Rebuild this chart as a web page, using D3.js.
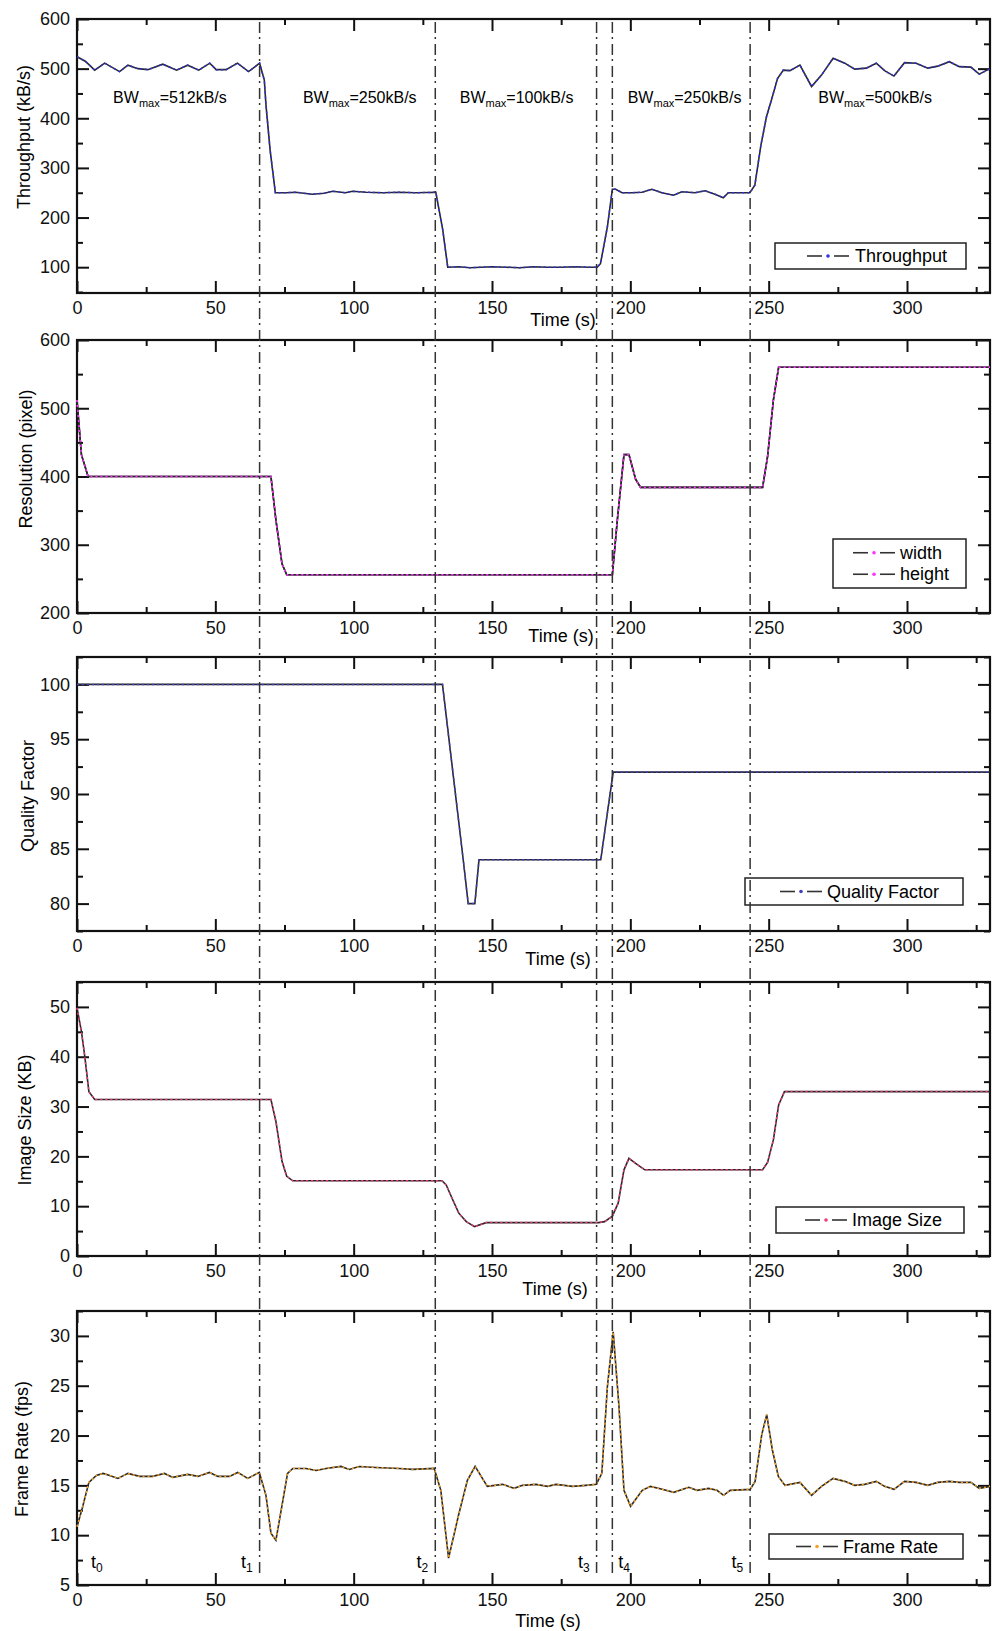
<!DOCTYPE html>
<html>
<head>
<meta charset="utf-8">
<script src="https://cdn.jsdelivr.net/npm/d3@7"></script>
<style>
  body { margin: 0; background: #fff; }
  svg { display: block; font-family: "Liberation Sans", Arial, sans-serif; }
</style>
</head>
<body>
<script>
// ---- data (time in s, value) ----
const throughput = [[0,524],[3,515],[6.4,497],[10,511],[15.4,494],[18.4,507],[22,500],[25.6,498],[31,509],[36,497],[40,507],[44,497],[48,511],[50.3,498],[53.9,498],[58,511],[62,494],[66,511],[67.7,477],[68.3,427],[69.8,336],[71.7,250],[75.6,250],[79,251],[85,247],[89.4,249],[92.4,253],[97,250],[99.6,253],[104.5,251],[110.5,250],[116.5,251],[122.5,250],[129.7,251],[132.2,175],[134,100],[138,101],[142,99],[146,100],[150,101],[155,100],[160,99],[165,101],[170,100],[175,100],[180,101],[185,100],[188,100],[189.2,107],[191.7,181],[193.5,257],[194.7,257],[197,250],[200.6,250],[204.2,251],[207.8,257],[211.4,250],[215.6,245],[218.6,252],[223.4,250],[227,254],[230.6,247],[233.6,240],[235.4,250],[240.2,250],[243.2,250],[245,265],[247.2,346],[249.2,403],[251,437],[253.2,480],[255.3,497],[257.7,496],[261.3,507],[265.5,464],[269.1,487],[273.3,521],[277.5,511],[281.1,499],[285.3,501],[288.9,511],[291.9,496],[295.3,485],[299.1,512],[303.3,511],[307.5,501],[311.1,505],[315.3,514],[318.9,504],[323.1,503],[326.1,489],[327.9,494],[330,500]];

const resWidth = [[0,512],[1.6,432],[4,400],[70.1,400],[71.9,336],[74.1,272],[75.8,256],[193.5,256],[195.3,336],[197.7,432],[199.5,432],[201.9,396],[203.7,384],[247.8,384],[249.6,429],[251.7,512],[253.6,560],[330,560]];
const resHeight = [[0,512],[1.6,432],[4,400],[70.1,400],[71.9,336],[74.1,272],[75.8,256],[193.5,256],[195.3,336],[197.7,432],[199.5,432],[201.9,396],[203.7,384],[247.8,384],[249.6,429],[251.7,512],[253.6,560],[330,560]];

const quality = [[0,100],[132.1,100],[139.6,84],[141.4,80],[143.8,80],[145.3,84],[189.3,84],[193.8,92],[330,92]];

const imageSize = [[0,49.8],[1.6,45.1],[2.8,40.1],[4.3,33],[6.4,31.4],[70.1,31.4],[71.9,27],[74.1,19],[75.8,16],[78,15.1],[131.9,15.1],[133.4,14.3],[135.8,11.3],[138,8.6],[140.7,6.9],[143.7,5.9],[147.9,6.7],[188.5,6.7],[190.7,6.9],[193.5,8],[195.6,10.6],[197.7,17.3],[199.5,19.6],[201.9,18.6],[205.2,17.3],[247.8,17.3],[249.6,18.8],[251.7,23.3],[253.6,30.3],[255.7,33],[330,33]];

const frameRate = [[0,10.85],[1.9,12.7],[4.3,15.3],[7,16],[9.4,16.2],[11.8,16.0],[14.8,15.7],[18.4,16.2],[22.6,15.9],[27.4,15.9],[31.6,16.2],[34.6,15.8],[40,16.1],[43.7,15.9],[47.9,16.3],[50.9,15.9],[55.1,15.9],[58.1,16.3],[61.7,15.7],[65.9,16.3],[68.3,14.0],[70.1,10.2],[71.9,9.5],[74.1,13.0],[76.1,16.2],[78,16.7],[82.8,16.7],[86.4,16.5],[90,16.7],[95.4,16.9],[98.4,16.6],[102,16.9],[108,16.8],[116.5,16.7],[121.3,16.6],[129.1,16.7],[131.5,14.5],[134.3,7.7],[137.9,12],[141.1,15.5],[143.9,16.9],[148.3,14.9],[153.8,15.1],[158,14.7],[161,15],[165.9,15.1],[170.1,14.9],[173.1,15.1],[179.1,14.9],[183.9,15],[187.7,15.1],[189.7,16.2],[191.7,24.9],[193.8,30.4],[195.9,22.9],[197.7,14.5],[200.1,12.9],[204.3,14.5],[207.3,14.9],[211.5,14.6],[215.7,14.3],[221.1,14.8],[224.1,14.5],[228.3,14.7],[231.3,14.5],[233.7,14.0],[236.1,14.5],[243.3,14.6],[245.1,15.4],[247.5,20.1],[249.3,22.1],[251.3,18.6],[253.5,15.9],[255.9,15.0],[261.3,15.3],[265.5,14.0],[269.1,14.9],[273.3,15.7],[277.5,15.4],[281.1,15.0],[284.7,15.1],[288.9,15.4],[291.9,14.9],[295.3,14.6],[299.1,15.4],[303.3,15.3],[307.5,15.0],[311.1,15.3],[315.3,15.4],[318.9,15.3],[323.1,15.3],[326.1,14.7],[330,14.9]];

// event markers t0..t5 (s)
const eventTimes = [0, 66, 129.5, 187.8, 193.5, 243.3];
const eventNames = ["0", "1", "2", "3", "4", "5"];

// bandwidth phases
const bwLabels = ["512kB/s", "250kB/s", "100kB/s", "250kB/s", "500kB/s"];
const bwLabelAt = [33.6, 102.2, 158.9, 219.6, 288.5];

// tick labels
const xTicks = [0, 50, 100, 150, 200, 250, 300];
const yTicksThroughput = [100, 200, 300, 400, 500, 600];
const yTicksResolution = [200, 300, 400, 500, 600];
const yTicksQuality = [80, 85, 90, 95, 100];
const yTicksImage = [0, 10, 20, 30, 40, 50];
const yTicksFrame = [5, 10, 15, 20, 25, 30];

// ---- layout ----
const width = 993, height = 1631;
const left = 77, right = 990;

const panels = [
  { top: 19, bottom: 293, domain: [48, 600], ticks: yTicksThroughput, minor: 50,
    yLabel: "Throughput (kB/s)", yLabelPos: [24, 137], timePos: [563, 326],
    series: [{ data: throughput, color: "#3030e0", label: "Throughput" }],
    legend: { x: 775, y: 243, w: 191, h: 26, sx: 807, tx: 855 } },
  { top: 340, bottom: 613, domain: [200, 600], ticks: yTicksResolution, minor: 50,
    yLabel: "Resolution (pixel)", yLabelPos: [26, 459], timePos: [561, 642],
    series: [{ data: resWidth, color: "#ff33ff", label: "width" },
             { data: resHeight, color: "#ff33ff", label: "height" }],
    legend: { x: 833, y: 539, w: 133, h: 49, sx: 853, tx: 900 } },
  { top: 657, bottom: 931, domain: [77.5, 102.5], ticks: yTicksQuality, minor: 2.5,
    yLabel: "Quality Factor", yLabelPos: [28, 796], timePos: [558, 965],
    series: [{ data: quality, color: "#4040c0", label: "Quality Factor" }],
    legend: { x: 745, y: 878, w: 218, h: 27, sx: 780, tx: 827 } },
  { top: 982, bottom: 1256, domain: [0, 55], ticks: yTicksImage, minor: 5,
    yLabel: "Image Size (KB)", yLabelPos: [25, 1120], timePos: [555, 1295],
    series: [{ data: imageSize, color: "#f03c78", label: "Image Size" }],
    legend: { x: 776, y: 1207, w: 188, h: 26, sx: 805, tx: 852 } },
  { top: 1311, bottom: 1585, domain: [5, 32.5], ticks: yTicksFrame, minor: 2.5,
    yLabel: "Frame Rate (fps)", yLabelPos: [22, 1449], timePos: [548, 1627],
    series: [{ data: frameRate, color: "#f5a020", label: "Frame Rate" }],
    legend: { x: 769, y: 1534, w: 194, h: 25, sx: 796, tx: 843 } }
];

const svg = d3.select("body").append("svg")
  .attr("width", width)
  .attr("height", height);

const x = d3.scaleLinear().domain([0, 330]).range([left, right]);
const xMinor = d3.range(0, 331, 25).filter(v => v % 50 !== 0);

function styleAxis(g) {
  g.select(".domain").remove();
  g.selectAll(".tick line").attr("stroke", "#111").attr("stroke-width", 2);
  g.selectAll(".tick text").attr("fill", "#111").style("font-size", "18px");
}

panels.forEach(p => {
  const y = d3.scaleLinear().domain(p.domain).range([p.bottom, p.top]);
  const yMinor = d3.range(Math.ceil(p.domain[0] / p.minor) * p.minor, p.domain[1] + 1e-6, p.minor)
    .filter(v => !p.ticks.some(t => Math.abs(t - v) < 1e-6));
  const g = svg.append("g");

  // major + minor ticks on all four sides, pointing inward
  g.append("g").attr("transform", `translate(0,${p.bottom})`)
    .call(d3.axisBottom(x).tickValues(xTicks).tickSize(-12).tickSizeOuter(0).tickPadding(8)).call(styleAxis);
  g.append("g").attr("transform", `translate(0,${p.bottom})`)
    .call(d3.axisBottom(x).tickValues(xMinor).tickSize(-6).tickFormat("")).call(styleAxis);
  g.append("g").attr("transform", `translate(0,${p.top})`)
    .call(d3.axisTop(x).tickValues(xTicks).tickSize(-12).tickFormat("")).call(styleAxis);
  g.append("g").attr("transform", `translate(0,${p.top})`)
    .call(d3.axisTop(x).tickValues(xMinor).tickSize(-6).tickFormat("")).call(styleAxis);
  g.append("g").attr("transform", `translate(${left},0)`)
    .call(d3.axisLeft(y).tickValues(p.ticks).tickSize(-12).tickSizeOuter(0).tickPadding(7)).call(styleAxis);
  g.append("g").attr("transform", `translate(${left},0)`)
    .call(d3.axisLeft(y).tickValues(yMinor).tickSize(-6).tickFormat("")).call(styleAxis);
  g.append("g").attr("transform", `translate(${right},0)`)
    .call(d3.axisRight(y).tickValues(p.ticks).tickSize(-12).tickFormat("")).call(styleAxis);
  g.append("g").attr("transform", `translate(${right},0)`)
    .call(d3.axisRight(y).tickValues(yMinor).tickSize(-6).tickFormat("")).call(styleAxis);

  // frame
  g.append("rect")
    .attr("x", left).attr("y", p.top)
    .attr("width", right - left).attr("height", p.bottom - p.top)
    .attr("fill", "none").attr("stroke", "#111").attr("stroke-width", 2.2);

  // axis titles
  g.append("text")
    .attr("transform", `translate(${p.yLabelPos[0]},${p.yLabelPos[1]}) rotate(-90)`)
    .attr("text-anchor", "middle")
    .attr("dominant-baseline", "central")
    .style("font-size", "18px")
    .text(p.yLabel);
  g.append("text")
    .attr("x", p.timePos[0]).attr("y", p.timePos[1])
    .attr("text-anchor", "middle")
    .style("font-size", "18px")
    .text("Time (s)");

  // data lines: dark line with coloured dots over it
  const line = d3.line().x(d => x(d[0])).y(d => y(d[1]));
  p.series.forEach(s => {
    g.append("path").datum(s.data)
      .attr("d", line).attr("fill", "none")
      .attr("stroke", "#2a2a2a").attr("stroke-width", 1.6);
    g.append("path").datum(s.data)
      .attr("d", line).attr("fill", "none")
      .attr("stroke", s.color).attr("stroke-width", 1.5)
      .attr("stroke-dasharray", "2,3");
  });

  // legend
  const L = p.legend;
  g.append("rect")
    .attr("x", L.x).attr("y", L.y).attr("width", L.w).attr("height", L.h)
    .attr("fill", "none").attr("stroke", "#222").attr("stroke-width", 1.5);
  const rowH = L.h / p.series.length;
  p.series.forEach((s, i) => {
    const cy = L.y + rowH * (i + 0.5) + (p.series.length > 1 ? (i === 0 ? 1.5 : -1.5) : 0);
    g.append("line").attr("x1", L.sx).attr("x2", L.sx + 15).attr("y1", cy).attr("y2", cy)
      .attr("stroke", "#333").attr("stroke-width", 1.6);
    g.append("line").attr("x1", L.sx + 27).attr("x2", L.sx + 42).attr("y1", cy).attr("y2", cy)
      .attr("stroke", "#333").attr("stroke-width", 1.6);
    g.append("circle").attr("cx", L.sx + 21).attr("cy", cy).attr("r", 1.8).attr("fill", s.color);
    g.append("text")
      .attr("x", L.tx).attr("y", cy)
      .attr("dominant-baseline", "central")
      .style("font-size", "18px")
      .text(s.label);
  });
});

// dash-dot event lines running through every panel
svg.append("g").selectAll("line")
  .data(eventTimes.slice(1))
  .enter()
  .append("line")
  .attr("x1", d => x(d)).attr("x2", d => x(d))
  .attr("y1", 22).attr("y2", 1577)
  .attr("stroke", "#333").attr("stroke-width", 1.5)
  .attr("stroke-dasharray", "11,4,2,5");

// t0..t5 labels in the bottom panel
const eventSide = ["right", "left", "left", "left", "right", "left"];
const tLabels = svg.append("g").selectAll("text")
  .data(eventTimes)
  .enter()
  .append("text")
  .attr("x", (d, i) => x(d) + (i === 0 ? 14 : eventSide[i] === "right" ? 6 : -7))
  .attr("y", 1568)
  .attr("text-anchor", (d, i) => eventSide[i] === "right" ? "start" : "end")
  .style("font-size", "18px");
tLabels.append("tspan").text("t");
tLabels.append("tspan").attr("dy", 4).style("font-size", "12px").text((d, i) => eventNames[i]);

// bandwidth annotations in the top panel
const bw = svg.append("g").selectAll("text")
  .data(bwLabels)
  .enter()
  .append("text")
  .attr("x", (d, i) => x(bwLabelAt[i]))
  .attr("y", 103)
  .attr("text-anchor", "middle")
  .style("font-size", "16px");
bw.append("tspan").text("BW");
bw.append("tspan").attr("dy", 4).style("font-size", "11px").text("max");
bw.append("tspan").attr("dy", -4).text(d => "=" + d);
</script>
</body>
</html>
